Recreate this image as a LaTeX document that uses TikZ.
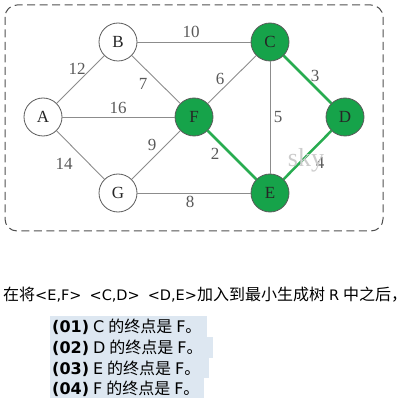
\documentclass[tikz,border=0pt]{standalone}
\usepackage{fontspec}
\setmainfont{Liberation Serif}
\newfontfamily\dv{DejaVu Sans}
\newfontfamily\cjk{Noto Sans CJK SC}
\definecolor{gfill}{RGB}{22,163,74}
\definecolor{tgreen}{RGB}{40,172,80}
\definecolor{egray}{RGB}{140,140,140}
\definecolor{vgray}{RGB}{90,90,90}
\definecolor{boxgray}{RGB}{80,80,80}
\definecolor{hl}{RGB}{221,231,241}
\tikzset{
  vtx/.style={circle, draw=vgray, line width=0.8pt, minimum size=38pt, inner sep=0pt,
    fill=white, text=black!85, font=\fontsize{17}{17}\selectfont},
  gv/.style={vtx, fill=gfill},
  edge/.style={draw=egray, line width=0.9pt},
  tree/.style={draw=tgreen, line width=2.5pt},
  wlab/.style={inner sep=0pt, text=black!65, font=\fontsize{17}{17}\selectfont},
  frame/.style={draw=boxgray, line width=1pt, dash pattern=on 8pt off 4.5pt, rounded corners=12pt},
  hlbox/.style={fill=hl, draw=none},
  rowtxt/.style={anchor=base west, inner sep=0pt, font=\fontsize{16}{16}\selectfont}
}
\begin{document}
\begin{tikzpicture}[x=1pt,y=-1pt]
\useasboundingbox (0,0) rectangle (410,409);
\draw[frame] (5,5) rectangle (383,231);
% vertices
\node[vtx] (A) at (43,117) {A};
\node[vtx] (B) at (118,42) {B};
\node[gv]  (C) at (270,42) {C};
\node[gv]  (F) at (194,117) {F};
\node[gv]  (D) at (345,117) {D};
\node[vtx] (G) at (118,193) {G};
\node[gv]  (E) at (270,193) {E};
% edges
\draw[edge] (A) -- (B);
\draw[edge] (A) -- (F);
\draw[edge] (A) -- (G);
\draw[edge] (B) -- (C);
\draw[edge] (B) -- (F);
\draw[edge] (F) -- (C);
\draw[edge] (G) -- (F);
\draw[edge] (G) -- (E);
\draw[edge] (C) -- (E);
\draw[tree] (C) -- (D);
\draw[tree] (F) -- (E);
\draw[tree] (D) -- (E);
% weights
\node[wlab] (w10) at (191,32) {10};
\node[wlab] (w12) at (77,69) {12};
\node[wlab] (w7)  at (143,84) {7};
\node[wlab] (w6)  at (220,79) {6};
\node[wlab] (w3)  at (315,76) {3};
\node[wlab] (w16) at (118,108) {16};
\node[wlab] (w5)  at (278,117) {5};
\node[wlab] (w9)  at (152,145) {9};
\node[wlab] (w2)  at (215,154) {2};
\node[wlab] (w4)  at (320,163) {4};
\node[wlab] (w14) at (64,164) {14};
\node[wlab] (w8)  at (190,202) {8};
\node[inner sep=0pt, text=black!20, font=\fontsize{26}{26}\selectfont] (sky) at (306,160) {sky};
% header text
\node[rowtxt] (head) at (3,300) {{\cjk\fontsize{16}{16}\selectfont 在将}{\dv\fontsize{14.5}{14.5}\selectfont <E,F>\hspace{8pt}<C,D>\hspace{8pt}<D,E>}{\cjk\fontsize{16}{16}\selectfont 加入到最小生成树\hspace{4pt}}{\dv\fontsize{14.5}{14.5}\selectfont R}{\cjk\fontsize{16}{16}\selectfont\hspace{4pt}中之后，}};
% highlighted rows
\fill[hlbox] (50,316) rectangle (207,337);
\fill[hlbox] (50,337) rectangle (213,357.5);
\fill[hlbox] (50,357.5) rectangle (209,378);
\fill[hlbox] (50,378) rectangle (204,398);
\node[rowtxt] (r1) at (52,332) {{\dv\bfseries (01)} {\dv C} {\cjk 的终点是} {\dv F}{\cjk 。}};
\node[rowtxt] (r2) at (52,353) {{\dv\bfseries (02)} {\dv D} {\cjk 的终点是} {\dv F}{\cjk 。}};
\node[rowtxt] (r3) at (52,374) {{\dv\bfseries (03)} {\dv E} {\cjk 的终点是} {\dv F}{\cjk 。}};
\node[rowtxt] (r4) at (52,394.5) {{\dv\bfseries (04)} {\dv F} {\cjk 的终点是} {\dv F}{\cjk 。}};
\end{tikzpicture}
\end{document}
